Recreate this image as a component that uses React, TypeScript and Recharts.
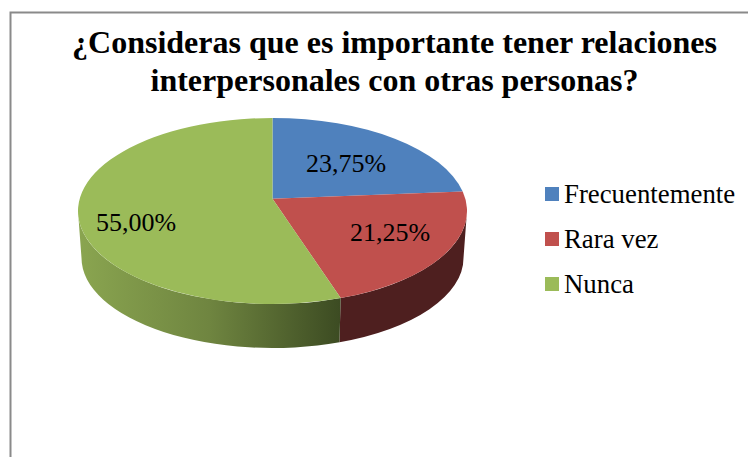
import { Legend, Pie, PieChart } from 'recharts'

const categories = ['Frecuentemente', 'Rara vez', 'Nunca']
const shares = [23.75, 21.25, 55]
const shareLabels = ['23,75%', '21,25%', '55,00%']
const titleLines = ['¿Consideras que es importante tener relaciones', 'interpersonales con otras personas?']

const topColors = ['#4F81BD', '#C0504D', '#9BBB59']
const wallColors = ['#2A4A70', '#4E1F1F', 'url(#greenWall)']
const labelNudge = [
    [-4, 5],
    [5, -2],
    [-10, 14],
]

const sliceData = categories.map((name, i) => ({ name, value: shares[i], fill: topColors[i], wall: wallColors[i], text: shareLabels[i], idx: i }))

// the top face is an ellipse seen in perspective, so the apex sits above its centre
const ASPECT = 194.5 / 93
const PERSPECTIVE = 0.875
const DEPTH = 47
const BOTTOM_RX = 191 / 194.5
const BOTTOM_RY = 90 / 93
const rad = Math.PI / 180

// recharts angle -> angle on the drawn ellipse, clockwise from 12 o'clock
function warp(angle: number) {
    const t = (90 - angle) * rad
    return (2 * Math.atan2(PERSPECTIVE * Math.sin(t / 2), Math.cos(t / 2))) / rad
}

function onEllipse(cx: number, cy: number, rx: number, ry: number, deg: number) {
    return [cx + rx * Math.sin(deg * rad), cy - ry * Math.cos(deg * rad)]
}

function apexY(cy: number, r: number) {
    const k2 = PERSPECTIVE * PERSPECTIVE
    return cy - (r * (1 - k2)) / (1 + k2)
}

function TopSlice(props: any) {
    const { cx, cy, outerRadius: r, startAngle, endAngle, fill } = props
    const rx = r * ASPECT
    const a = warp(startAngle)
    const b = warp(endAngle)
    const [x1, y1] = onEllipse(cx, cy, rx, r, a)
    const [x2, y2] = onEllipse(cx, cy, rx, r, b)
    const d = `M${cx} ${apexY(cy, r)}L${x1} ${y1}A${rx} ${r} 0 ${b - a > 180 ? 1 : 0} 1 ${x2} ${y2}Z`
    return <path d={d} fill={fill} />
}

function WallSlice(props: any) {
    const { cx, cy, outerRadius: r, startAngle, endAngle, payload } = props
    const rx = r * ASPECT
    const a = Math.max(warp(startAngle), 90)
    const b = Math.min(warp(endAngle), 270)
    if (b <= a) return null
    const lowRx = rx * BOTTOM_RX
    const lowRy = r * BOTTOM_RY
    const lowCy = cy + DEPTH
    const [x1, y1] = onEllipse(cx, cy, rx, r, a)
    const [x2, y2] = onEllipse(cx, cy, rx, r, b)
    const [x3, y3] = onEllipse(cx, lowCy, lowRx, lowRy, b)
    const [x4, y4] = onEllipse(cx, lowCy, lowRx, lowRy, a)
    const d = `M${x1} ${y1}A${rx} ${r} 0 0 1 ${x2} ${y2}L${x3} ${y3}A${lowRx} ${lowRy} 0 0 0 ${x4} ${y4}Z`
    return <path d={d} fill={payload.wall} />
}

function SliceLabel(props: any) {
    const { cx, cy, outerRadius: r, midAngle, payload } = props
    const [px, py] = onEllipse(cx, cy, r * ASPECT, r, warp(midAngle))
    const ay = apexY(cy, r)
    const [dx, dy] = labelNudge[payload.idx]
    return (
        <text x={cx + (px - cx) * 0.65 + dx} y={ay + (py - ay) * 0.65 + dy} textAnchor="middle" dominantBaseline="central" fontSize={26} fontFamily="Liberation Serif" fill="#000">
            {payload.text}
        </text>
    )
}

function LegendList() {
    return (
        <div style={{ fontFamily: 'Liberation Serif', fontSize: 26.8, color: '#000', lineHeight: '30px' }}>
            {categories.map((name, i) => (
                <div key={name} style={{ display: 'flex', alignItems: 'center', height: 30, marginBottom: 15 }}>
                    <span style={{ width: 14, height: 14, background: topColors[i], marginRight: 5 }} />
                    {name}
                </div>
            ))}
        </div>
    )
}

export default function App() {
    return (
        <div style={{ position: 'absolute', left: 0, top: 0, width: 748, height: 457, overflow: 'hidden', background: '#fff' }}>
            <PieChart width={748} height={457} margin={{ top: 0, right: 0, bottom: 0, left: 0 }}>
                <defs>
                    <linearGradient id="greenWall" x1="0" y1="0" x2="1" y2="0">
                        <stop offset="0" stopColor="#8AA550" />
                        <stop offset="0.5" stopColor="#6F8540" />
                        <stop offset="1" stopColor="#3C4B22" />
                    </linearGradient>
                </defs>
                <path d="M10.5 457V12.5H748" fill="none" stroke="#8A8A8A" strokeWidth={2} />
                {titleLines.map((line, i) => (
                    <text key={line} x={394.5} y={53 + i * 38} textAnchor="middle" fontSize={32} fontWeight="bold" fontFamily="Liberation Serif" fill="#000">
                        {line}
                    </text>
                ))}
                <Pie data={sliceData} dataKey="value" nameKey="name" cx={272.5} cy={211} outerRadius={93} startAngle={90} endAngle={-270} shape={WallSlice} legendType="none" stroke="none" isAnimationActive={false} />
                <Pie data={sliceData} dataKey="value" nameKey="name" cx={272.5} cy={211} outerRadius={93} startAngle={90} endAngle={-270} shape={TopSlice} label={SliceLabel} labelLine={false} stroke="none" isAnimationActive={false} />
                <Legend content={LegendList} layout="vertical" wrapperStyle={{ left: 545, top: 179, width: 200, bottom: 'auto' }} />
            </PieChart>
        </div>
    )
}
